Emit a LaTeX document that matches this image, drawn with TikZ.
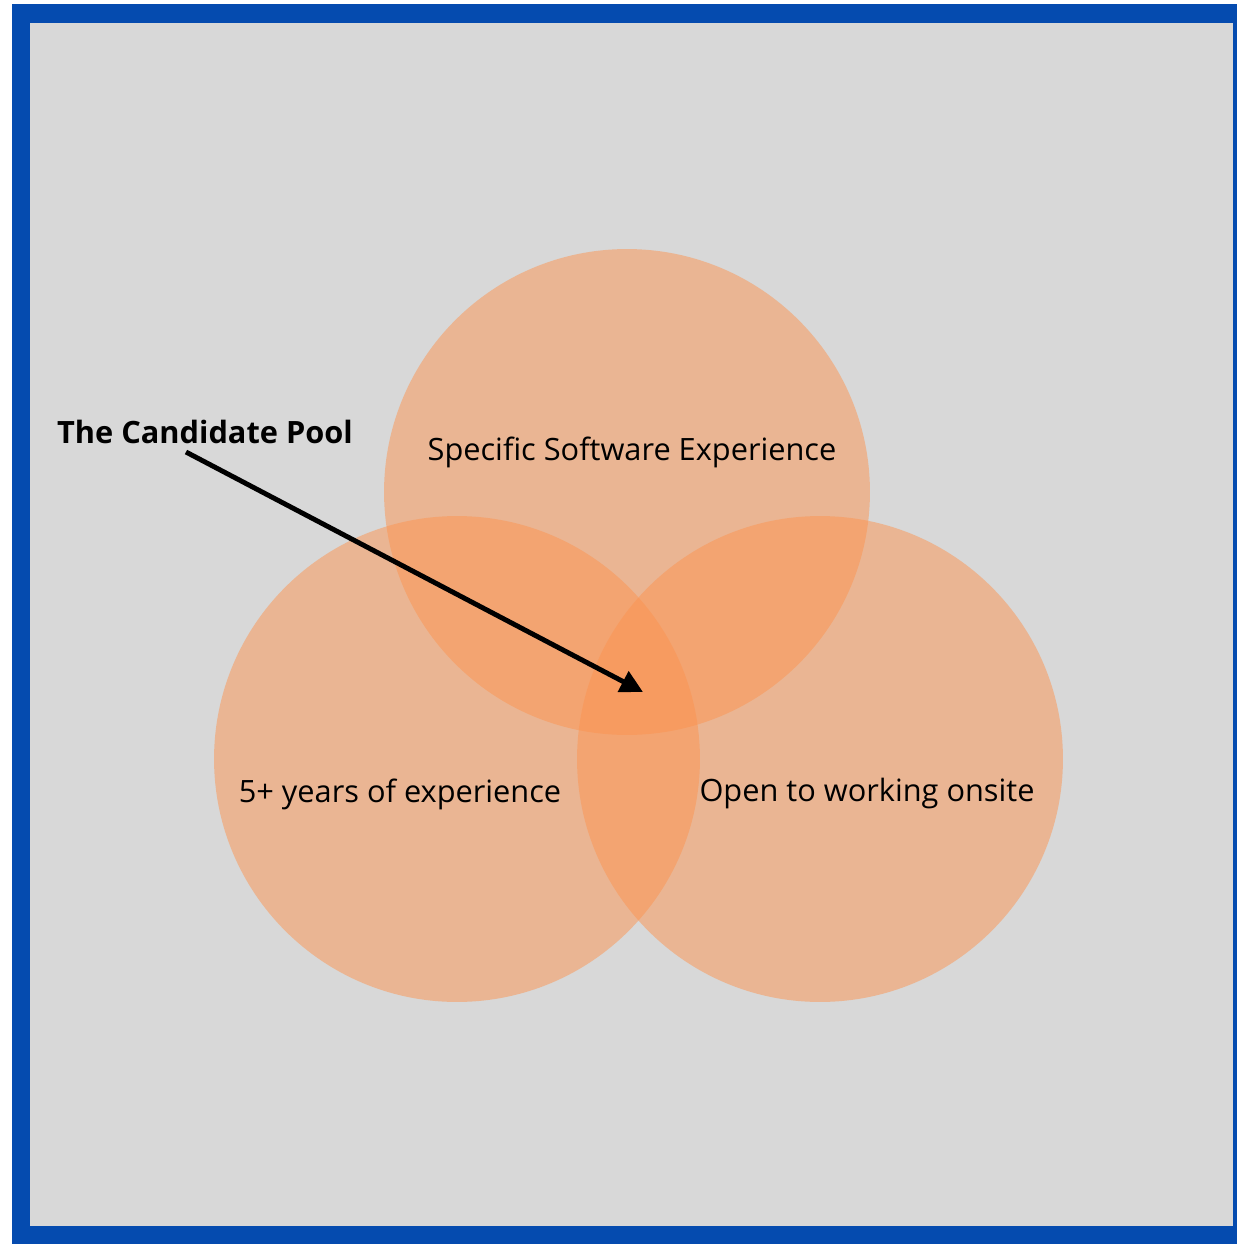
\documentclass[tikz,border=0pt]{standalone}
\usepackage{fontspec}
\setmainfont{Open Sans}
\usetikzlibrary{arrows.meta}
\definecolor{frameblue}{RGB}{5,75,175}
\definecolor{bggray}{RGB}{216,216,216}
\definecolor{venn}{RGB}{252,148,80}

\begin{document}
\begin{tikzpicture}[x=0.02cm,y=-0.02cm]
  \tikzset{lbl/.style={font=\fontsize{17.5}{21}\selectfont},
           set/.style={fill=venn,opacity=0.5}}
  \useasboundingbox (0,0) rectangle (1237,1244);
  \fill[frameblue] (12,4) rectangle (1237,1244);
  \fill[bggray] (30,23) rectangle (1233,1226);
  \coordinate (S) at (627,492);
  \coordinate (Y) at (457,759);
  \coordinate (O) at (820,759);
  \foreach \c in {S,Y,O}
    \fill[set] (\c) circle[radius=4.86cm];
  \node[lbl] (soft) at (632,452) {Specific Software Experience};
  \node[lbl] (years) at (400,794) {5+ years of experience};
  \node[lbl] (onsite) at (867,794) {Open to working onsite};
  \node[lbl,font=\fontsize{17.5}{21}\selectfont\bfseries] (pool) at (205,432) {The Candidate Pool};
  \coordinate (tail) at (186,452);
  \coordinate (tip) at (643,692);
  \draw[line width=2.8pt,-{Triangle[length=0.45cm,width=0.45cm]}] (tail) -- (tip);
\end{tikzpicture}
\end{document}
